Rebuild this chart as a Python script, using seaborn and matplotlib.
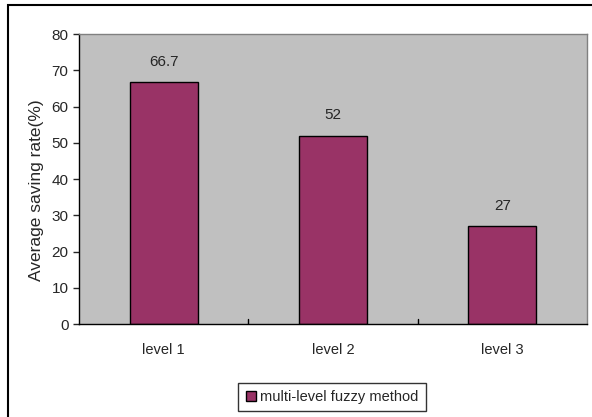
import pandas as pd
import seaborn as sns
import matplotlib.pyplot as plt
from matplotlib.patches import Rectangle

# data
levels = ["level 1", "level 2", "level 3"]
saving_rate = [66.7, 52, 27]
series_name = "multi-level fuzzy method"

data = pd.DataFrame({"level": levels, "rate": saving_rate, "method": series_name})

sns.set_style("ticks")
plt.rcParams["font.family"] = ["Liberation Sans", "DejaVu Sans"]
fs = 11

fig = plt.figure(figsize=(5.92, 4.17), dpi=100)
ax = fig.add_axes([79 / 592, 1 - 324 / 417, 508 / 592, 290 / 417])

sns.barplot(data=data, x="level", y="rate", hue="method", palette=["#993366"],
            width=0.4, edgecolor="black", linewidth=1, saturation=1, ax=ax)

ax.set_facecolor("#C0C0C0")
ax.set_ylim(0, 80)
ax.set_yticks(range(0, 81, 10))
ax.set_xlim(-0.5, 2.5)
ax.set_xlabel("")
ax.set_ylabel("Average saving rate(%)", fontsize=12.5)
ax.yaxis.set_label_coords(-0.069, 0.46)
ax.tick_params(axis="y", labelsize=fs, length=4.5, width=1, direction="out", pad=3)
ax.tick_params(axis="x", labelsize=10.5, length=0, pad=14)
for x in [0.5, 1.5]:
    ax.plot([x, x], [0, 1.5], color="black", lw=1)

for sp in ["top", "right"]:
    ax.spines[sp].set_color("#808080")
    ax.spines[sp].set_linewidth(1)
for sp in ["left", "bottom"]:
    ax.spines[sp].set_color("black")
    ax.spines[sp].set_linewidth(1)

for i, v in enumerate(saving_rate):
    ax.text(i, v + 3.6, f"{v:g}", ha="center", va="bottom", fontsize=fs)

ax.legend_.remove()
handles, labels = ax.get_legend_handles_labels()
fig.legend(handles, labels, loc="center", bbox_to_anchor=(332 / 592, 1 - 397 / 417),
           frameon=True, fancybox=False, edgecolor="black", fontsize=10.5,
           handlelength=0.7, handleheight=0.7, handletextpad=0.3, borderpad=0.5)
fig.legends[0].get_frame().set_linewidth(1)

# outer chart border (right and bottom run off the image)
fig.patches.append(Rectangle((8 / 592, -0.05), 1.1, 1 - 5 / 417 + 0.05,
                             transform=fig.transFigure, fill=False,
                             edgecolor="black", linewidth=1.5))

fig.savefig("out.png", dpi=100)
